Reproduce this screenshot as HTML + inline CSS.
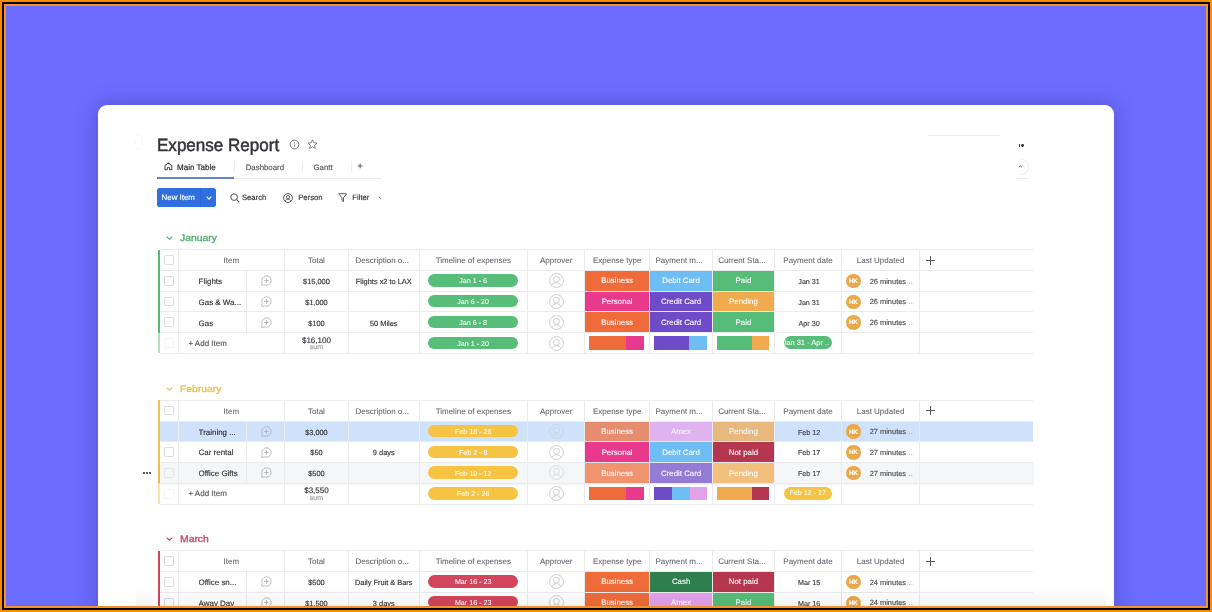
<!DOCTYPE html>
<html><head><meta charset="utf-8"><title>Expense Report</title>
<style>
*{box-sizing:border-box;margin:0;padding:0}
html,body{width:1212px;height:612px;overflow:hidden;background:#ff8a00}
body{font-family:"Liberation Sans", Arial, sans-serif;color:#323338;position:relative}
#f1{position:absolute;left:2px;top:2px;width:1208px;height:608px;background:#000}
#f2{position:absolute;left:4px;top:4px;width:1204px;height:604px;background:#f7902a}
#bg{position:absolute;left:6px;top:6px;width:1200px;height:600px;background:#6c6cff;overflow:hidden}
#card{position:absolute;left:92px;top:99px;width:1016px;height:540px;background:#fff;border-radius:9px;box-shadow:0 0 22px rgba(30,30,90,.3)}
#pg{position:absolute;left:-6px;top:-6px;width:1212px;height:612px;will-change:transform;-webkit-text-stroke:0.15px currentColor;text-rendering:geometricPrecision}
#pg div, #pg svg{position:absolute}
.td,.hd{display:flex;align-items:center;justify-content:center;white-space:nowrap;overflow:hidden;padding-top:1.5px}
.hd{font-size:8px;color:#606169;-webkit-text-stroke:0.06px currentColor}
.td{font-size:7.4px;color:#323338}
.ti{font-size:7.95px;justify-content:flex-start}
.tn{font-size:7.4px}
.tdate{font-size:7.2px;color:#3d3e45;padding-left:2.2px}
.hl{height:1px;background:#ebebee}
.vl{width:1px;background:#ebebee}
.bar{width:2px}
.cb{width:9.6px;height:9.6px;border:1px solid #dcdde2;border-radius:1px}
.gt{font-size:9.5px;font-weight:400;white-space:nowrap;line-height:10px;transform-origin:0 0;transform:scaleX(1.09);-webkit-text-stroke:.32px currentColor}
.pill{-webkit-text-stroke:0.05px #fff;border-radius:7px;color:#fff;font-size:7.15px;padding-top:2px;display:flex;align-items:center;justify-content:center;white-space:nowrap}
.stc{-webkit-text-stroke:0.08px #fff;color:#fff;font-size:7.85px;padding-top:0.5px;display:flex;align-items:center;justify-content:center;white-space:nowrap}
.hk{width:14.5px;height:14.5px;border-radius:50%;background:#e9a84a;color:#fff;font-size:6.3px;font-weight:700;letter-spacing:-0.15px;padding-top:0.9px;display:flex;align-items:center;justify-content:center}
.upd{font-size:7.45px;color:#4f5056;padding-top:1px;display:flex;align-items:center;white-space:nowrap}
.addit{font-size:8px;color:#55565c;display:flex;align-items:center;white-space:nowrap}
.sum{text-align:center}
.sv{position:absolute;left:0;right:0;top:3px;font-size:8px;color:#323338;text-align:center;line-height:9px}
.sl{position:absolute;left:0;right:0;top:11.4px;font-size:7px;color:#9a9ba1;text-align:center;line-height:8px}
.batt{display:flex}
.batt span{display:block;height:100%}
.pdp{-webkit-text-stroke:0.05px #fff;width:48px;height:12.4px;border-radius:7px;color:#fff;font-size:7.1px;overflow:hidden;display:flex;align-items:center;justify-content:center;white-space:nowrap}
.pdp.ov{justify-content:flex-start;padding-left:0}
.pdp.ov span{margin-left:-1.2px;font-size:7.5px}
.plus{width:9px;height:9px}
.plus:before{content:"";position:absolute;left:4px;top:0;width:1px;height:9px;background:#555}
.plus:after{content:"";position:absolute;left:0;top:4px;width:9px;height:1px;background:#555}
.title{font-size:17.7px;white-space:nowrap;transform-origin:0 0;transform:scaleX(.963);-webkit-text-stroke:.5px #323338;letter-spacing:0}
.tab{font-size:7.85px;white-space:nowrap;color:#55565e;line-height:9px}
.tabm{font-size:8.05px;color:#333;-webkit-text-stroke:.22px #333}
.btn{background:#2f6fe0;border-radius:2.5px}
.tbw{font-size:7.9px;white-space:nowrap;color:#fff;line-height:9px}
.tb{font-size:7.7px;white-space:nowrap;color:#35363c;line-height:9px}
</style></head><body>
<div id="f1"></div><div id="f2"></div>
<div id="bg">
<div id="card"></div>
<div id="pg">
<svg style="left:127px;top:133px" width="18" height="18" viewBox="0 0 18 18"><path d="M8 1.2a7.8 7.8 0 0 1 0 15.6" fill="none" stroke="#f4f4f6" stroke-width="1"/><path d="M7.3 7.2l1.6 1.8-1.6 1.8" fill="none" stroke="#f0f0f2" stroke-width="0.9"/></svg>
<div class="title" style="left:156.9px;top:134.6px;">Expense Report</div>
<svg style="left:288.5px;top:138.8px" width="11" height="11" viewBox="0 0 11 11"><circle cx="5.5" cy="5.5" r="4.35" fill="none" stroke="#6f7078" stroke-width="0.95"/><path d="M5.5 3.1v4.9" stroke="#8a8b92" stroke-width="0.75"/></svg>
<svg style="left:307.4px;top:139.2px" width="11" height="10.5" viewBox="0 0 11 10.5"><path d="M5.5 0.8l1.35 2.9 3.1 0.4-2.3 2.15 0.6 3.15-2.75-1.55-2.75 1.55 0.6-3.15-2.3-2.15 3.1-0.4z" fill="none" stroke="#6f7078" stroke-width="0.9" stroke-linejoin="round"/></svg>
<svg style="left:163.6px;top:162.4px" width="9" height="8.5" viewBox="0 0 9 8.5"><path d="M1 3.6L4.4 0.8L7.8 3.6V7.8H5.6V6.4a1.2 1.2 0 0 0-2.4 0V7.8H1z" fill="none" stroke="#4b4c54" stroke-width="1.05" stroke-linejoin="round"/></svg>
<div class="tab tabm" style="left:177px;top:163.2px">Main Table</div>
<div class="tab" style="left:245.7px;top:163.3px">Dashboard</div>
<div class="tab" style="left:313.5px;top:163.3px">Gantt</div>
<div class="tab" style="left:357.6px;top:161.6px;font-size:9px;color:#444">+</div>
<div style="left:234.3px;top:160.5px;width:1px;height:11.5px;background:#eceef2"></div>
<div style="left:302.3px;top:160.5px;width:1px;height:11.5px;background:#eceef2"></div>
<div style="left:351px;top:160.5px;width:1px;height:11.5px;background:#eceef2"></div>
<div style="left:233.8px;top:177.8px;width:148.5px;height:1px;background:#e9ebf0"></div>
<div style="left:156.6px;top:177px;width:77.3px;height:2px;background:#6286c8"></div>
<div class="btn" style="left:156.8px;top:188.2px;width:59.4px;height:18.5px"></div>
<div style="left:200.1px;top:188.2px;width:0.8px;height:18.5px;background:#2d66d4"></div>
<div class="tbw" style="left:161.6px;top:193px">New Item</div>
<svg style="left:205.6px;top:195.8px" width="6" height="4" viewBox="0 0 6 4"><path d="M0.6 0.7L3 3.1L5.4 0.7" fill="none" stroke="#fff" stroke-width="1.15"/></svg>
<svg style="left:229.6px;top:192.6px" width="10" height="10" viewBox="0 0 10 10"><circle cx="4.1" cy="4.1" r="3.3" fill="none" stroke="#4b4c54" stroke-width="1"/><path d="M6.5 6.5L9.2 9.2" stroke="#4b4c54" stroke-width="1.05"/></svg>
<div class="tb" style="left:241.9px;top:193px">Search</div>
<svg style="left:283.4px;top:192.9px" width="10" height="10" viewBox="0 0 10 10"><circle cx="5" cy="5" r="4.4" fill="none" stroke="#4b4c54" stroke-width="0.9"/><circle cx="5" cy="4.1" r="1.7" fill="none" stroke="#4b4c54" stroke-width="0.85"/><path d="M2.2 8.2c0.6-1.4 1.6-2 2.8-2s2.2 0.6 2.8 2" fill="none" stroke="#4b4c54" stroke-width="0.85"/></svg>
<div class="tb" style="left:298.2px;top:193px">Person</div>
<svg style="left:338.4px;top:192.7px" width="9.5" height="9.5" viewBox="0 0 9.5 9.5"><path d="M0.7 0.8H8.7L5.5 4.8V8.7L4 7.6V4.8z" fill="none" stroke="#4b4c54" stroke-width="0.9" stroke-linejoin="round"/></svg>
<div class="tb" style="left:352.3px;top:193px">Filter</div>
<svg style="left:378px;top:196.4px" width="4" height="4" viewBox="0 0 4 4"><path d="M0.8 0.8L2.6 2.6" stroke="#666" stroke-width="0.9"/></svg>
<div style="left:928px;top:134.8px;width:72px;height:1px;background:#efeff2"></div>
<div style="left:1018.8px;top:144.4px;width:1.3px;height:2.4px;background:#333"></div>
<div style="left:1021.2px;top:144.2px;width:2.8px;height:2.8px;border-radius:50%;background:#333"></div>
<svg style="left:1012px;top:158.2px" width="18" height="18" viewBox="0 0 18 18"><path d="M8.5 0.8a8 8 0 0 1 0 16" fill="none" stroke="#ececef" stroke-width="1"/><path d="M7 9.2l1.4-1.4 1.4 1.4" fill="none" stroke="#444" stroke-width="0.9"/></svg>
<div style="left:1016px;top:178px;width:13px;height:1px;background:#ececef"></div>
<div class="gt" style="left:180.4px;top:233.9px;color:#50ad6c">January</div>
<svg class="chev" style="left:165.8px;top:236.4px" width="7" height="4" viewBox="0 0 7 4"><path d="M0.6 0.6L3.5 3.2L6.4 0.6" fill="none" stroke="#50ad6c" stroke-width="1.1"/></svg>
<div class="bar" style="left:158px;top:249.6px;height:83.04px;background:#5ab877"></div>
<div class="bar" style="left:158px;top:332.64px;height:20.76px;background:#5ab877;opacity:.45"></div>
<div class="hl" style="left:160px;top:249.1px;width:873px"></div>
<div class="hl" style="left:160px;top:269.86px;width:873px"></div>
<div class="hl" style="left:160px;top:290.62px;width:873px"></div>
<div class="hl" style="left:160px;top:311.38px;width:873px"></div>
<div class="hl" style="left:160px;top:332.14px;width:873px"></div>
<div class="hl" style="left:160px;top:352.9px;width:873px"></div>
<div class="vl" style="left:177.9px;top:249.6px;height:103.8px"></div>
<div class="vl" style="left:283.9px;top:249.6px;height:103.8px"></div>
<div class="vl" style="left:348px;top:249.6px;height:103.8px"></div>
<div class="vl" style="left:418.5px;top:249.6px;height:103.8px"></div>
<div class="vl" style="left:527.1px;top:249.6px;height:103.8px"></div>
<div class="vl" style="left:584.2px;top:249.6px;height:103.8px"></div>
<div class="vl" style="left:649.1px;top:249.6px;height:103.8px"></div>
<div class="vl" style="left:712.1px;top:249.6px;height:103.8px"></div>
<div class="vl" style="left:773.8px;top:249.6px;height:103.8px"></div>
<div class="vl" style="left:841.2px;top:249.6px;height:103.8px"></div>
<div class="vl" style="left:918.9px;top:249.6px;height:103.8px"></div>
<div class="vl" style="left:246px;top:270.36px;height:62.28px"></div>
<div class="cb" style="left:164.2px;top:255.2px"></div>
<div class="hd" style="left:178.4px;top:249.6px;width:106px;height:20.76px;">Item</div>
<div class="hd" style="left:284.4px;top:249.6px;width:64.1px;height:20.76px;">Total</div>
<div class="hd" style="left:348.5px;top:249.6px;width:70.5px;height:20.76px;"><span style="margin-left:-3px">Description o...</span></div>
<div class="hd" style="left:419px;top:249.6px;width:108.6px;height:20.76px;">Timeline of expenses</div>
<div class="hd" style="left:527.6px;top:249.6px;width:57.1px;height:20.76px;">Approver</div>
<div class="hd" style="left:584.7px;top:249.6px;width:64.9px;height:20.76px;">Expense type</div>
<div class="hd" style="left:649.6px;top:249.6px;width:63px;height:20.76px;"><span style="margin-left:-4px">Payment m...</span></div>
<div class="hd" style="left:712.6px;top:249.6px;width:61.7px;height:20.76px;"><span style="margin-left:-3px">Current Sta...</span></div>
<div class="hd" style="left:774.3px;top:249.6px;width:67.4px;height:20.76px;">Payment date</div>
<div class="hd" style="left:841.7px;top:249.6px;width:77.7px;height:20.76px;">Last Updated</div>
<div class="plus" style="left:926px;top:255.5px"></div>
<div class="cb" style="left:164.2px;top:275.96px"></div>
<div class="td ti" style="left:198.6px;top:270.36px;height:20.76px">Flights</div>
<div class="cm" style="left:260px;top:274px"><svg width="13" height="13" viewBox="0 0 13 13"><path d="M4.89 10.92A4.7 4.7 0 1 0 2.08 8.11L1.6 11.4Z" fill="none" stroke="#b4b5b9" stroke-width="0.9" stroke-linejoin="round"/><path d="M6.5 4.3V8.7M4.3 6.5H8.7" stroke="#b0b1b5" stroke-width="0.9"/></svg></div>
<div class="td tn" style="left:284.4px;top:270.36px;width:64.1px;height:20.76px;">$15,000</div>
<div class="td tn" style="left:348.5px;top:270.36px;width:70.5px;height:20.76px;">Flights x2 to LAX</div>
<div class="pill" style="left:428.2px;top:274.26px;width:90px;height:12.4px;background:#57bd78">Jan 1 - 6</div>
<div class="av" style="left:549px;top:273px"><svg width="15" height="15" viewBox="0 0 15 15"><circle cx="7.5" cy="7.5" r="6.95" fill="none" stroke="#c5c6ca" stroke-width="0.85"/><circle cx="7.45" cy="6.3" r="2.95" fill="none" stroke="#c5c6ca" stroke-width="0.85"/><path d="M2.8 12.5C3.9 10.6 5.6 9.75 7.45 9.75S11 10.6 12.1 12.5" fill="none" stroke="#c5c6ca" stroke-width="0.85"/></svg></div>
<div class="stc" style="left:585.2px;top:270.86px;width:63.9px;height:19.76px;background:#ef6c3a">Business</div>
<div class="stc" style="left:650.1px;top:270.86px;width:62px;height:19.76px;background:#6ebef5">Debit Card</div>
<div class="stc" style="left:713.1px;top:270.86px;width:60.7px;height:19.76px;background:#56bd78">Paid</div>
<div class="td tdate" style="left:774.3px;top:270.36px;width:67.4px;height:20.76px;">Jan 31</div>
<div class="hk" style="left:846.1px;top:273.76px">HK</div>
<div class="upd" style="left:869.7px;top:270.36px;height:20.76px">26 minutes<span style="color:#9a9a9e;margin-left:2.4px;letter-spacing:0.3px">..</span></div>
<div class="cb" style="left:164.2px;top:296.72px"></div>
<div class="td ti" style="left:198.6px;top:291.12px;height:20.76px">Gas &amp; Wa...</div>
<div class="cm" style="left:260px;top:295px"><svg width="13" height="13" viewBox="0 0 13 13"><path d="M4.89 10.92A4.7 4.7 0 1 0 2.08 8.11L1.6 11.4Z" fill="none" stroke="#b4b5b9" stroke-width="0.9" stroke-linejoin="round"/><path d="M6.5 4.3V8.7M4.3 6.5H8.7" stroke="#b0b1b5" stroke-width="0.9"/></svg></div>
<div class="td tn" style="left:284.4px;top:291.12px;width:64.1px;height:20.76px;">$1,000</div>
<div class="td tn" style="left:348.5px;top:291.12px;width:70.5px;height:20.76px;"></div>
<div class="pill" style="left:428.2px;top:295.02px;width:90px;height:12.4px;background:#57bd78">Jan 6 - 20</div>
<div class="av" style="left:549px;top:294px"><svg width="15" height="15" viewBox="0 0 15 15"><circle cx="7.5" cy="7.5" r="6.95" fill="none" stroke="#c5c6ca" stroke-width="0.85"/><circle cx="7.45" cy="6.3" r="2.95" fill="none" stroke="#c5c6ca" stroke-width="0.85"/><path d="M2.8 12.5C3.9 10.6 5.6 9.75 7.45 9.75S11 10.6 12.1 12.5" fill="none" stroke="#c5c6ca" stroke-width="0.85"/></svg></div>
<div class="stc" style="left:585.2px;top:291.62px;width:63.9px;height:19.76px;background:#e8398c">Personal</div>
<div class="stc" style="left:650.1px;top:291.62px;width:62px;height:19.76px;background:#6e4bc9">Credit Card</div>
<div class="stc" style="left:713.1px;top:291.62px;width:60.7px;height:19.76px;background:#f1aa4e">Pending</div>
<div class="td tdate" style="left:774.3px;top:291.12px;width:67.4px;height:20.76px;">Jan 31</div>
<div class="hk" style="left:846.1px;top:294.52px">HK</div>
<div class="upd" style="left:869.7px;top:291.12px;height:20.76px">26 minutes<span style="color:#9a9a9e;margin-left:2.4px;letter-spacing:0.3px">..</span></div>
<div class="cb" style="left:164.2px;top:317.48px"></div>
<div class="td ti" style="left:198.6px;top:311.88px;height:20.76px">Gas</div>
<div class="cm" style="left:260px;top:316px"><svg width="13" height="13" viewBox="0 0 13 13"><path d="M4.89 10.92A4.7 4.7 0 1 0 2.08 8.11L1.6 11.4Z" fill="none" stroke="#b4b5b9" stroke-width="0.9" stroke-linejoin="round"/><path d="M6.5 4.3V8.7M4.3 6.5H8.7" stroke="#b0b1b5" stroke-width="0.9"/></svg></div>
<div class="td tn" style="left:284.4px;top:311.88px;width:64.1px;height:20.76px;">$100</div>
<div class="td tn" style="left:348.5px;top:311.88px;width:70.5px;height:20.76px;">50 Miles</div>
<div class="pill" style="left:428.2px;top:315.78px;width:90px;height:12.4px;background:#57bd78">Jan 6 - 8</div>
<div class="av" style="left:549px;top:315px"><svg width="15" height="15" viewBox="0 0 15 15"><circle cx="7.5" cy="7.5" r="6.95" fill="none" stroke="#c5c6ca" stroke-width="0.85"/><circle cx="7.45" cy="6.3" r="2.95" fill="none" stroke="#c5c6ca" stroke-width="0.85"/><path d="M2.8 12.5C3.9 10.6 5.6 9.75 7.45 9.75S11 10.6 12.1 12.5" fill="none" stroke="#c5c6ca" stroke-width="0.85"/></svg></div>
<div class="stc" style="left:585.2px;top:312.38px;width:63.9px;height:19.76px;background:#ef6c3a">Business</div>
<div class="stc" style="left:650.1px;top:312.38px;width:62px;height:19.76px;background:#6e4bc9">Credit Card</div>
<div class="stc" style="left:713.1px;top:312.38px;width:60.7px;height:19.76px;background:#56bd78">Paid</div>
<div class="td tdate" style="left:774.3px;top:311.88px;width:67.4px;height:20.76px;">Apr 30</div>
<div class="hk" style="left:846.1px;top:315.28px">HK</div>
<div class="upd" style="left:869.7px;top:311.88px;height:20.76px">26 minutes<span style="color:#9a9a9e;margin-left:2.4px;letter-spacing:0.3px">..</span></div>
<div class="cb" style="left:164.2px;top:338.24px;opacity:.3"></div>
<div class="addit" style="left:188.4px;top:332.64px;height:20.76px">+ Add Item</div>
<div class="sum" style="left:284.4px;top:332.64px;width:64.1px;height:20.76px"><div class="sv">$16,100</div><div class="sl">sum</div></div>
<div class="pill" style="left:428.2px;top:336.54px;width:90px;height:12.4px;background:#57bd78">Jan 1 - 20</div>
<div class="av" style="left:549px;top:336px"><svg width="15" height="15" viewBox="0 0 15 15"><circle cx="7.5" cy="7.5" r="6.95" fill="none" stroke="#c5c6ca" stroke-width="0.85"/><circle cx="7.45" cy="6.3" r="2.95" fill="none" stroke="#c5c6ca" stroke-width="0.85"/><path d="M2.8 12.5C3.9 10.6 5.6 9.75 7.45 9.75S11 10.6 12.1 12.5" fill="none" stroke="#c5c6ca" stroke-width="0.85"/></svg></div>
<div class="batt" style="left:589.2px;top:336.04px;width:55px;height:13.6px"><span style="flex:2;background:#ef6c3a"></span><span style="flex:1;background:#e8398c"></span></div>
<div class="batt" style="left:654.1px;top:336.04px;width:53.1px;height:13.6px"><span style="flex:2;background:#6e4bc9"></span><span style="flex:1;background:#6ebef5"></span></div>
<div class="batt" style="left:717.1px;top:336.04px;width:51.8px;height:13.6px"><span style="flex:2;background:#56bd78"></span><span style="flex:1;background:#f1aa4e"></span></div>
<div class="pdp ov" style="left:783.7px;top:336.44px;background:#57bd78"><span>Jan 31 - Apr ..</span></div>
<div class="gt" style="left:180.4px;top:384.6px;color:#edc04e">February</div>
<svg class="chev" style="left:165.8px;top:387.1px" width="7" height="4" viewBox="0 0 7 4"><path d="M0.6 0.6L3.5 3.2L6.4 0.6" fill="none" stroke="#edc04e" stroke-width="1.1"/></svg>
<div class="bar" style="left:158px;top:400.3px;height:83.04px;background:#eec24f"></div>
<div class="bar" style="left:158px;top:483.34px;height:20.76px;background:#eec24f;opacity:.45"></div>
<div style="left:160px;top:421.06px;width:873px;height:20.76px;background:#cfe2fb"></div>
<div style="left:160px;top:462.58px;width:873px;height:20.76px;background:#f5f6f8;box-shadow:0 1px 2px rgba(0,0,0,.12)"></div>
<div style="left:142.5px;top:472.03px;width:2.2px;height:2.2px;border-radius:50%;background:#26262a"></div>
<div style="left:145.7px;top:472.03px;width:2.2px;height:2.2px;border-radius:50%;background:#26262a"></div>
<div style="left:148.9px;top:472.03px;width:2.2px;height:2.2px;border-radius:50%;background:#26262a"></div>
<div class="hl" style="left:160px;top:399.8px;width:873px"></div>
<div class="hl" style="left:160px;top:420.56px;width:873px"></div>
<div class="hl" style="left:160px;top:441.32px;width:873px"></div>
<div class="hl" style="left:160px;top:462.08px;width:873px"></div>
<div class="hl" style="left:160px;top:482.84px;width:873px"></div>
<div class="hl" style="left:160px;top:503.6px;width:873px"></div>
<div class="vl" style="left:177.9px;top:400.3px;height:103.8px"></div>
<div class="vl" style="left:283.9px;top:400.3px;height:103.8px"></div>
<div class="vl" style="left:348px;top:400.3px;height:103.8px"></div>
<div class="vl" style="left:418.5px;top:400.3px;height:103.8px"></div>
<div class="vl" style="left:527.1px;top:400.3px;height:103.8px"></div>
<div class="vl" style="left:584.2px;top:400.3px;height:103.8px"></div>
<div class="vl" style="left:649.1px;top:400.3px;height:103.8px"></div>
<div class="vl" style="left:712.1px;top:400.3px;height:103.8px"></div>
<div class="vl" style="left:773.8px;top:400.3px;height:103.8px"></div>
<div class="vl" style="left:841.2px;top:400.3px;height:103.8px"></div>
<div class="vl" style="left:918.9px;top:400.3px;height:103.8px"></div>
<div class="vl" style="left:246px;top:421.06px;height:62.28px"></div>
<div class="cb" style="left:164.2px;top:405.9px"></div>
<div class="hd" style="left:178.4px;top:400.3px;width:106px;height:20.76px;">Item</div>
<div class="hd" style="left:284.4px;top:400.3px;width:64.1px;height:20.76px;">Total</div>
<div class="hd" style="left:348.5px;top:400.3px;width:70.5px;height:20.76px;"><span style="margin-left:-3px">Description o...</span></div>
<div class="hd" style="left:419px;top:400.3px;width:108.6px;height:20.76px;">Timeline of expenses</div>
<div class="hd" style="left:527.6px;top:400.3px;width:57.1px;height:20.76px;">Approver</div>
<div class="hd" style="left:584.7px;top:400.3px;width:64.9px;height:20.76px;">Expense type</div>
<div class="hd" style="left:649.6px;top:400.3px;width:63px;height:20.76px;"><span style="margin-left:-4px">Payment m...</span></div>
<div class="hd" style="left:712.6px;top:400.3px;width:61.7px;height:20.76px;"><span style="margin-left:-3px">Current Sta...</span></div>
<div class="hd" style="left:774.3px;top:400.3px;width:67.4px;height:20.76px;">Payment date</div>
<div class="hd" style="left:841.7px;top:400.3px;width:77.7px;height:20.76px;">Last Updated</div>
<div class="plus" style="left:926px;top:406.2px"></div>
<div class="cb" style="left:164.2px;top:426.66px;opacity:.6"></div>
<div class="td ti" style="left:198.6px;top:421.06px;height:20.76px">Training ...</div>
<div class="cm" style="left:260px;top:425px"><svg width="13" height="13" viewBox="0 0 13 13"><path d="M4.89 10.92A4.7 4.7 0 1 0 2.08 8.11L1.6 11.4Z" fill="none" stroke="#b4b5b9" stroke-width="0.9" stroke-linejoin="round"/><path d="M6.5 4.3V8.7M4.3 6.5H8.7" stroke="#b0b1b5" stroke-width="0.9"/></svg></div>
<div class="td tn" style="left:284.4px;top:421.06px;width:64.1px;height:20.76px;">$3,000</div>
<div class="td tn" style="left:348.5px;top:421.06px;width:70.5px;height:20.76px;"></div>
<div class="pill" style="left:428.2px;top:424.96px;width:90px;height:12.4px;background:#f6c343">Feb 18 - 26</div>
<div class="av" style="left:549px;top:424px;opacity:.6"><svg width="15" height="15" viewBox="0 0 15 15"><circle cx="7.5" cy="7.5" r="6.95" fill="none" stroke="#c5c6ca" stroke-width="0.85"/><circle cx="7.45" cy="6.3" r="2.95" fill="none" stroke="#c5c6ca" stroke-width="0.85"/><path d="M2.8 12.5C3.9 10.6 5.6 9.75 7.45 9.75S11 10.6 12.1 12.5" fill="none" stroke="#c5c6ca" stroke-width="0.85"/></svg></div>
<div class="stc" style="left:585.2px;top:421.56px;width:63.9px;height:19.76px;background:#ef6c3a;opacity:.72">Business</div>
<div class="stc" style="left:650.1px;top:421.56px;width:62px;height:19.76px;background:#e3a1ea;opacity:.72">Amex</div>
<div class="stc" style="left:713.1px;top:421.56px;width:60.7px;height:19.76px;background:#f1aa4e;opacity:.72">Pending</div>
<div class="td tdate" style="left:774.3px;top:421.06px;width:67.4px;height:20.76px;">Feb 12</div>
<div class="hk" style="left:846.1px;top:424.46px">HK</div>
<div class="upd" style="left:869.7px;top:421.06px;height:20.76px">27 minutes<span style="color:#9a9a9e;margin-left:2.4px;letter-spacing:0.3px">..</span></div>
<div class="cb" style="left:164.2px;top:447.42px"></div>
<div class="td ti" style="left:198.6px;top:441.82px;height:20.76px">Car rental</div>
<div class="cm" style="left:260px;top:446px"><svg width="13" height="13" viewBox="0 0 13 13"><path d="M4.89 10.92A4.7 4.7 0 1 0 2.08 8.11L1.6 11.4Z" fill="none" stroke="#b4b5b9" stroke-width="0.9" stroke-linejoin="round"/><path d="M6.5 4.3V8.7M4.3 6.5H8.7" stroke="#b0b1b5" stroke-width="0.9"/></svg></div>
<div class="td tn" style="left:284.4px;top:441.82px;width:64.1px;height:20.76px;">$50</div>
<div class="td tn" style="left:348.5px;top:441.82px;width:70.5px;height:20.76px;">9 days</div>
<div class="pill" style="left:428.2px;top:445.72px;width:90px;height:12.4px;background:#f6c343">Feb 2 - 8</div>
<div class="av" style="left:549px;top:445px"><svg width="15" height="15" viewBox="0 0 15 15"><circle cx="7.5" cy="7.5" r="6.95" fill="none" stroke="#c5c6ca" stroke-width="0.85"/><circle cx="7.45" cy="6.3" r="2.95" fill="none" stroke="#c5c6ca" stroke-width="0.85"/><path d="M2.8 12.5C3.9 10.6 5.6 9.75 7.45 9.75S11 10.6 12.1 12.5" fill="none" stroke="#c5c6ca" stroke-width="0.85"/></svg></div>
<div class="stc" style="left:585.2px;top:442.32px;width:63.9px;height:19.76px;background:#e8398c">Personal</div>
<div class="stc" style="left:650.1px;top:442.32px;width:62px;height:19.76px;background:#6ebef5">Debit Card</div>
<div class="stc" style="left:713.1px;top:442.32px;width:60.7px;height:19.76px;background:#b4374f">Not paid</div>
<div class="td tdate" style="left:774.3px;top:441.82px;width:67.4px;height:20.76px;">Feb 17</div>
<div class="hk" style="left:846.1px;top:445.22px">HK</div>
<div class="upd" style="left:869.7px;top:441.82px;height:20.76px">27 minutes<span style="color:#9a9a9e;margin-left:2.4px;letter-spacing:0.3px">..</span></div>
<div class="cb" style="left:164.2px;top:468.18px;opacity:.6"></div>
<div class="td ti" style="left:198.6px;top:462.58px;height:20.76px">Office Gifts</div>
<div class="cm" style="left:260px;top:466px"><svg width="13" height="13" viewBox="0 0 13 13"><path d="M4.89 10.92A4.7 4.7 0 1 0 2.08 8.11L1.6 11.4Z" fill="none" stroke="#b4b5b9" stroke-width="0.9" stroke-linejoin="round"/><path d="M6.5 4.3V8.7M4.3 6.5H8.7" stroke="#b0b1b5" stroke-width="0.9"/></svg></div>
<div class="td tn" style="left:284.4px;top:462.58px;width:64.1px;height:20.76px;">$500</div>
<div class="td tn" style="left:348.5px;top:462.58px;width:70.5px;height:20.76px;"></div>
<div class="pill" style="left:428.2px;top:466.48px;width:90px;height:12.4px;background:#f6c343">Feb 10 - 12</div>
<div class="av" style="left:549px;top:465px;opacity:.6"><svg width="15" height="15" viewBox="0 0 15 15"><circle cx="7.5" cy="7.5" r="6.95" fill="none" stroke="#c5c6ca" stroke-width="0.85"/><circle cx="7.45" cy="6.3" r="2.95" fill="none" stroke="#c5c6ca" stroke-width="0.85"/><path d="M2.8 12.5C3.9 10.6 5.6 9.75 7.45 9.75S11 10.6 12.1 12.5" fill="none" stroke="#c5c6ca" stroke-width="0.85"/></svg></div>
<div class="stc" style="left:585.2px;top:463.08px;width:63.9px;height:19.76px;background:#ef6c3a;opacity:.72">Business</div>
<div class="stc" style="left:650.1px;top:463.08px;width:62px;height:19.76px;background:#6e4bc9;opacity:.72">Credit Card</div>
<div class="stc" style="left:713.1px;top:463.08px;width:60.7px;height:19.76px;background:#f1aa4e;opacity:.72">Pending</div>
<div class="td tdate" style="left:774.3px;top:462.58px;width:67.4px;height:20.76px;">Feb 17</div>
<div class="hk" style="left:846.1px;top:465.98px">HK</div>
<div class="upd" style="left:869.7px;top:462.58px;height:20.76px">27 minutes<span style="color:#9a9a9e;margin-left:2.4px;letter-spacing:0.3px">..</span></div>
<div class="cb" style="left:164.2px;top:488.94px;opacity:.3"></div>
<div class="addit" style="left:188.4px;top:483.34px;height:20.76px">+ Add Item</div>
<div class="sum" style="left:284.4px;top:483.34px;width:64.1px;height:20.76px"><div class="sv">$3,550</div><div class="sl">sum</div></div>
<div class="pill" style="left:428.2px;top:487.24px;width:90px;height:12.4px;background:#f6c343">Feb 2 - 26</div>
<div class="av" style="left:549px;top:486px"><svg width="15" height="15" viewBox="0 0 15 15"><circle cx="7.5" cy="7.5" r="6.95" fill="none" stroke="#c5c6ca" stroke-width="0.85"/><circle cx="7.45" cy="6.3" r="2.95" fill="none" stroke="#c5c6ca" stroke-width="0.85"/><path d="M2.8 12.5C3.9 10.6 5.6 9.75 7.45 9.75S11 10.6 12.1 12.5" fill="none" stroke="#c5c6ca" stroke-width="0.85"/></svg></div>
<div class="batt" style="left:589.2px;top:486.74px;width:55px;height:13.6px"><span style="flex:2;background:#ef6c3a"></span><span style="flex:1;background:#e8398c"></span></div>
<div class="batt" style="left:654.1px;top:486.74px;width:53.1px;height:13.6px"><span style="flex:1;background:#6e4bc9"></span><span style="flex:1;background:#6ebef5"></span><span style="flex:1;background:#e3a1ea"></span></div>
<div class="batt" style="left:717.1px;top:486.74px;width:51.8px;height:13.6px"><span style="flex:2;background:#f1aa4e"></span><span style="flex:1;background:#b4374f"></span></div>
<div class="pdp" style="left:783.7px;top:487.14px;background:#f6c343"><span>Feb 12 - 17</span></div>
<div class="gt" style="left:180.4px;top:534.9px;color:#c9455e">March</div>
<svg class="chev" style="left:165.8px;top:537.4px" width="7" height="4" viewBox="0 0 7 4"><path d="M0.6 0.6L3.5 3.2L6.4 0.6" fill="none" stroke="#c9455e" stroke-width="1.1"/></svg>
<div class="bar" style="left:158px;top:550.6px;height:62.28px;background:#cf4560"></div>
<div class="hl" style="left:160px;top:550.1px;width:873px"></div>
<div class="hl" style="left:160px;top:570.86px;width:873px"></div>
<div class="hl" style="left:160px;top:591.62px;width:873px"></div>
<div class="hl" style="left:160px;top:612.38px;width:873px"></div>
<div class="vl" style="left:177.9px;top:550.6px;height:62.28px"></div>
<div class="vl" style="left:283.9px;top:550.6px;height:62.28px"></div>
<div class="vl" style="left:348px;top:550.6px;height:62.28px"></div>
<div class="vl" style="left:418.5px;top:550.6px;height:62.28px"></div>
<div class="vl" style="left:527.1px;top:550.6px;height:62.28px"></div>
<div class="vl" style="left:584.2px;top:550.6px;height:62.28px"></div>
<div class="vl" style="left:649.1px;top:550.6px;height:62.28px"></div>
<div class="vl" style="left:712.1px;top:550.6px;height:62.28px"></div>
<div class="vl" style="left:773.8px;top:550.6px;height:62.28px"></div>
<div class="vl" style="left:841.2px;top:550.6px;height:62.28px"></div>
<div class="vl" style="left:918.9px;top:550.6px;height:62.28px"></div>
<div class="vl" style="left:246px;top:571.36px;height:41.52px"></div>
<div class="cb" style="left:164.2px;top:556.2px"></div>
<div class="hd" style="left:178.4px;top:550.6px;width:106px;height:20.76px;">Item</div>
<div class="hd" style="left:284.4px;top:550.6px;width:64.1px;height:20.76px;">Total</div>
<div class="hd" style="left:348.5px;top:550.6px;width:70.5px;height:20.76px;"><span style="margin-left:-3px">Description o...</span></div>
<div class="hd" style="left:419px;top:550.6px;width:108.6px;height:20.76px;">Timeline of expenses</div>
<div class="hd" style="left:527.6px;top:550.6px;width:57.1px;height:20.76px;">Approver</div>
<div class="hd" style="left:584.7px;top:550.6px;width:64.9px;height:20.76px;">Expense type</div>
<div class="hd" style="left:649.6px;top:550.6px;width:63px;height:20.76px;"><span style="margin-left:-4px">Payment m...</span></div>
<div class="hd" style="left:712.6px;top:550.6px;width:61.7px;height:20.76px;"><span style="margin-left:-3px">Current Sta...</span></div>
<div class="hd" style="left:774.3px;top:550.6px;width:67.4px;height:20.76px;">Payment date</div>
<div class="hd" style="left:841.7px;top:550.6px;width:77.7px;height:20.76px;">Last Updated</div>
<div class="plus" style="left:926px;top:556.5px"></div>
<div class="cb" style="left:164.2px;top:576.96px"></div>
<div class="td ti" style="left:198.6px;top:571.36px;height:20.76px">Office sn...</div>
<div class="cm" style="left:260px;top:575px"><svg width="13" height="13" viewBox="0 0 13 13"><path d="M4.89 10.92A4.7 4.7 0 1 0 2.08 8.11L1.6 11.4Z" fill="none" stroke="#b4b5b9" stroke-width="0.9" stroke-linejoin="round"/><path d="M6.5 4.3V8.7M4.3 6.5H8.7" stroke="#b0b1b5" stroke-width="0.9"/></svg></div>
<div class="td tn" style="left:284.4px;top:571.36px;width:64.1px;height:20.76px;">$500</div>
<div class="td tn" style="left:348.5px;top:571.36px;width:70.5px;height:20.76px;">Daily Fruit &amp; Bars</div>
<div class="pill" style="left:428.2px;top:575.26px;width:90px;height:12.4px;background:#d2455c">Mar 16 - 23</div>
<div class="av" style="left:549px;top:574px"><svg width="15" height="15" viewBox="0 0 15 15"><circle cx="7.5" cy="7.5" r="6.95" fill="none" stroke="#c5c6ca" stroke-width="0.85"/><circle cx="7.45" cy="6.3" r="2.95" fill="none" stroke="#c5c6ca" stroke-width="0.85"/><path d="M2.8 12.5C3.9 10.6 5.6 9.75 7.45 9.75S11 10.6 12.1 12.5" fill="none" stroke="#c5c6ca" stroke-width="0.85"/></svg></div>
<div class="stc" style="left:585.2px;top:571.86px;width:63.9px;height:19.76px;background:#ef6c3a">Business</div>
<div class="stc" style="left:650.1px;top:571.86px;width:62px;height:19.76px;background:#2f7e4e">Cash</div>
<div class="stc" style="left:713.1px;top:571.86px;width:60.7px;height:19.76px;background:#b4374f">Not paid</div>
<div class="td tdate" style="left:774.3px;top:571.36px;width:67.4px;height:20.76px;">Mar 15</div>
<div class="hk" style="left:846.1px;top:574.76px">HK</div>
<div class="upd" style="left:869.7px;top:571.36px;height:20.76px">24 minutes<span style="color:#9a9a9e;margin-left:2.4px;letter-spacing:0.3px">..</span></div>
<div class="cb" style="left:164.2px;top:597.72px"></div>
<div class="td ti" style="left:198.6px;top:592.12px;height:20.76px">Away Day</div>
<div class="cm" style="left:260px;top:596px"><svg width="13" height="13" viewBox="0 0 13 13"><path d="M4.89 10.92A4.7 4.7 0 1 0 2.08 8.11L1.6 11.4Z" fill="none" stroke="#b4b5b9" stroke-width="0.9" stroke-linejoin="round"/><path d="M6.5 4.3V8.7M4.3 6.5H8.7" stroke="#b0b1b5" stroke-width="0.9"/></svg></div>
<div class="td tn" style="left:284.4px;top:592.12px;width:64.1px;height:20.76px;">$1,500</div>
<div class="td tn" style="left:348.5px;top:592.12px;width:70.5px;height:20.76px;">3 days</div>
<div class="pill" style="left:428.2px;top:596.02px;width:90px;height:12.4px;background:#d2455c">Mar 16 - 23</div>
<div class="av" style="left:549px;top:595px"><svg width="15" height="15" viewBox="0 0 15 15"><circle cx="7.5" cy="7.5" r="6.95" fill="none" stroke="#c5c6ca" stroke-width="0.85"/><circle cx="7.45" cy="6.3" r="2.95" fill="none" stroke="#c5c6ca" stroke-width="0.85"/><path d="M2.8 12.5C3.9 10.6 5.6 9.75 7.45 9.75S11 10.6 12.1 12.5" fill="none" stroke="#c5c6ca" stroke-width="0.85"/></svg></div>
<div class="stc" style="left:585.2px;top:592.62px;width:63.9px;height:19.76px;background:#ef6c3a">Business</div>
<div class="stc" style="left:650.1px;top:592.62px;width:62px;height:19.76px;background:#e3a1ea">Amex</div>
<div class="stc" style="left:713.1px;top:592.62px;width:60.7px;height:19.76px;background:#56bd78">Paid</div>
<div class="td tdate" style="left:774.3px;top:592.12px;width:67.4px;height:20.76px;">Mar 16</div>
<div class="hk" style="left:846.1px;top:595.52px">HK</div>
<div class="upd" style="left:869.7px;top:592.12px;height:20.76px">24 minutes<span style="color:#9a9a9e;margin-left:2.4px;letter-spacing:0.3px">..</span></div>
<div style="left:136px;top:586px;width:970px;height:20px;background:linear-gradient(rgba(0,0,0,0),rgba(0,0,0,.045))"></div>
</div>
</div>
</body></html>
